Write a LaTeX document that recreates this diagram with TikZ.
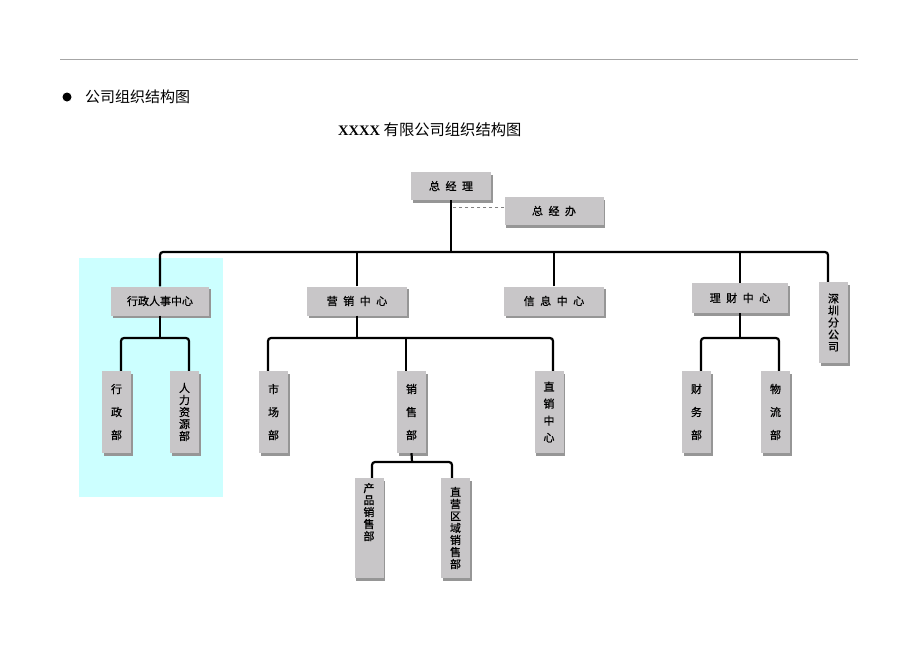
\documentclass[tikz,border=0pt]{standalone}
\usepackage{fontspec}
\setmainfont{Liberation Serif}
\newfontfamily\cjk{Noto Sans CJK SC}
\newfontfamily\cjkb[FakeBold=0.8]{Noto Sans CJK SC}
\usetikzlibrary{shadows}
\definecolor{boxgray}{HTML}{C8C6C8}
\definecolor{shadegray}{HTML}{969696}
\definecolor{hrcyan}{HTML}{CCFFFF}
\newcommand{\jg}{\hspace{.5em}}
\tikzstyle{dept}=[fill=boxgray, inner sep=0pt, drop shadow={shadow xshift=1.5pt, shadow yshift=-2.5pt, fill=shadegray, opacity=1}]
\tikzstyle{hdept}=[dept, minimum width=98pt, minimum height=29pt, font=\cjkb\fontsize{11}{13}\selectfont]
\tikzstyle{vdept}=[dept, minimum width=29pt, minimum height=82pt, align=center]
\tikzstyle{spaced}=[font=\cjkb\fontsize{11}{23}\selectfont]
\tikzstyle{packed}=[font=\cjkb\fontsize{11}{12}\selectfont]
\tikzstyle{conn}=[line width=2.2pt, rounded corners=3pt]

\begin{document}
\begin{tikzpicture}[x=1pt,y=-1pt]
    \useasboundingbox (0,0) rectangle (920,651);
    \draw[gray!70, line width=.8pt] (60,59) -- (858,59);
    \fill (67,97) circle (4.5pt);
    \node[anchor=west, inner sep=0pt, font=\cjk\fontsize{15}{18}\selectfont] (hd) at (85,97) {公司组织结构图};
    \node[anchor=west, inner sep=0pt, font=\fontsize{14.5}{17}\selectfont] (tt) at (338,130) {\textbf{XXXX} {\cjk\fontsize{15.3}{17}\selectfont 有限公司组织结构图}};
    \fill[hrcyan] (79,258) rectangle (223,497);

    \node[hdept, minimum width=80pt, minimum height=28pt] (zjl) at (451,186) {总\jg 经\jg 理};
    \node[hdept, minimum width=99pt, minimum height=28pt] (zjb) at (554,211) {总\jg 经\jg 办};

    \node[hdept] (xzrs) at (160,301) {行政人事中心};
    \node[hdept, minimum width=100pt] (yx) at (357,301) {营\jg 销\jg 中\jg 心};
    \node[hdept, minimum width=100pt] (xx) at (554,301) {信\jg 息\jg 中\jg 心};
    \node[hdept, minimum width=96pt, minimum height=30pt] (lc) at (740,298) {理\jg 财\jg 中\jg 心};
    \node[vdept, packed, minimum height=81pt] (szfgs) at (833.5,322.5) {深\\圳\\分\\公\\司};

    \node[vdept, spaced] (xz) at (116.5,412) {行\\政\\部};
    \node[vdept, packed] (rlzy) at (184.5,412) {人\\力\\资\\源\\部};
    \node[vdept, spaced] (sc) at (273.5,412) {市\\场\\部};
    \node[vdept, spaced] (xs) at (411.5,412) {销\\售\\部};
    \node[vdept, font=\cjkb\fontsize{11}{17}\selectfont] (zxzx) at (549,412) {直\\销\\中\\心};
    \node[vdept, spaced] (cw) at (696.5,412) {财\\务\\部};
    \node[vdept, spaced] (wl) at (775.5,412) {物\\流\\部};

    \node[vdept, minimum height=100pt, label={[packed, align=center, anchor=north, inner sep=5pt]north:{产\\品\\销\\售\\部}}] (cpxs) at (369,528) {};
    \node[vdept, packed, minimum height=100pt] (zyqy) at (455.5,528) {直\\营\\区\\域\\销\\售\\部};

    \coordinate (b0) at (452,252);
    \draw[dashed, gray, thick] ([yshift=4pt]zjb.west) -- ([yshift=4pt]zjb.west -| b0);
    \draw[conn] (zjl.south) -- (zjl.south |- b0);
    \draw[conn] (xzrs.north) |- (b0) -| ([xshift=-5.5pt]szfgs.north);
    \draw[conn] (yx.north) -- (yx |- b0);
    \draw[conn] (xx.north) -- (xx |- b0);
    \draw[conn] (lc.north) -- (lc |- b0);

    \coordinate (b1) at (160,338);
    \draw[conn] (xzrs.south) -- (b1);
    \draw[conn] ([xshift=4.5pt]xz.north) |- (b1) -| ([xshift=4.5pt]rlzy.north);

    \coordinate (b2) at (357,338);
    \draw[conn] (yx.south) -- (b2);
    \draw[conn] ([xshift=-5.5pt]sc.north) |- (b2) -| ([xshift=4pt]zxzx.north);
    \draw[conn] ([xshift=-5.5pt]xs.north) -- ([xshift=-5.5pt]xs.north |- b2);

    \coordinate (b3) at (412,462);
    \draw[conn] (xs.south) -- (b3);
    \draw[conn] ([xshift=3pt]cpxs.north) |- (b3) -| ([xshift=-3.5pt]zyqy.north);

    \coordinate (b4) at (740,338);
    \draw[conn] (lc.south) -- (b4);
    \draw[conn] ([xshift=4.5pt]cw.north) |- (b4) -| ([xshift=3.5pt]wl.north);
\end{tikzpicture}
\end{document}
